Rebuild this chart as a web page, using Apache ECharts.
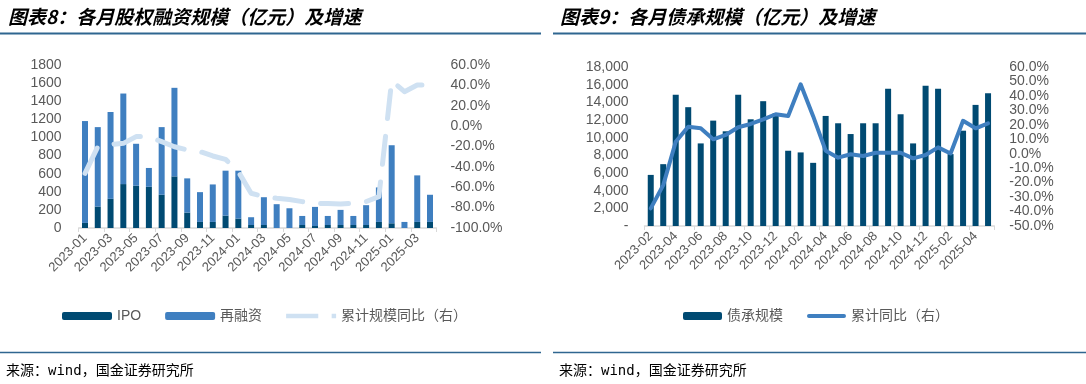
<!DOCTYPE html>
<html>
<head>
<meta charset="utf-8">
<script src="https://cdn.jsdelivr.net/npm/echarts@6/dist/echarts.min.js"></script>
<style>
html,body{margin:0;padding:0;background:#fff;}
#c{width:1086px;height:384px;}
</style>
</head>
<body>
<div id="c"></div>
<script>
// ---- Chart 8 data: 各月股权融资规模（亿元）及增速 ----
const months8 = ['2023-01','2023-02','2023-03','2023-04','2023-05','2023-06','2023-07','2023-08','2023-09','2023-10','2023-11','2023-12',
  '2024-01','2024-02','2024-03','2024-04','2024-05','2024-06','2024-07','2024-08','2024-09','2024-10','2024-11','2024-12',
  '2025-01','2025-02','2025-03','2025-04'];
const ipo = [56, 237, 322, 485, 467, 455, 367, 570, 170, 67, 67, 137, 104, 33, 33, 0, 0, 33, 22, 33, 33, 33, 33, 67, 52, 0, 67, 67];
const refinance = [1125, 877, 959, 1000, 463, 208, 747, 978, 378, 329, 414, 496, 529, 86, 307, 263, 218, 100, 211, 100, 167, 100, 219, 381, 862, 67, 514, 300];
const yoy8 = [-46.3, -20.2, -18, -16.9, -10.3, -10.3, -15.2, -20.2, -23.4, -25, -29.3, -32.6, -44.7, -65.9, -69.2, -70.8, -72, -74.1, -75.7, -76, -76.4, -75.7, -74.1, -69.2, 44.6, 33.8, 40.4, 40.4];

// ---- Chart 9 data: 各月债承规模（亿元）及增速 ----
const months9 = ['2023-02','2023-03','2023-04','2023-05','2023-06','2023-07','2023-08','2023-09','2023-10','2023-11','2023-12',
  '2024-01','2024-02','2024-03','2024-04','2024-05','2024-06','2024-07','2024-08','2024-09','2024-10','2024-11','2024-12',
  '2025-01','2025-02','2025-03','2025-04','2025-05'];
const bonds = [5785, 7000, 14850, 13450, 9350, 11930, 10720, 14850, 12080, 14130, 12770, 8520, 8330, 7150, 12460, 11630, 10410, 11630, 11630, 15530, 12650, 9350, 15870, 15530, 8140, 10790, 13710, 15040];
const yoy9 = [-37.8, -21.7, 8.3, 18.7, 17.6, 10, 13, 18.3, 20.6, 23.8, 27.3, 26.1, 48, 26, 2.1, -2.7, -0.4, -1.6, 0.7, 0.7, 0.7, -3.2, -0.9, 4.4, 0.2, 22.8, 17.6, 21];

const DARK = '#004a72';
const MID = '#3f7fc0';
const LIGHT = '#cfe1f2';
const GRAY = '#595959';
const AXF = 'Liberation Sans, Arial, sans-serif';
const CJK = 'Liberation Sans, "Noto Sans CJK SC", sans-serif';

const chart = echarts.init(document.getElementById('c'), null, {renderer: 'canvas'});

const xAxisBase = (data) => ({
  type: 'category',
  data: data,
  axisLine: {lineStyle: {color: '#d9d9d9', width: 1.5}},
  axisTick: {show: true, length: 4, lineStyle: {color: '#d9d9d9'}},
  axisLabel: {interval: 1, rotate: 45, color: GRAY, fontSize: 13, fontFamily: AXF, margin: 8},
  splitLine: {show: false}
});
const yBase = {
  splitLine: {show: false},
  axisLine: {show: false},
  axisTick: {show: false}
};

const dashIcon = 'path://M0,0h36v5h-36z M51,0h5v5h-5z';
const solidIcon = 'path://M2,0h36a2,2 0 0 1 0,4h-36a2,2 0 0 1 0,-4z';

chart.setOption({
  animation: false,
  backgroundColor: '#fff',
  title: [
    {text: '图表8：各月股权融资规模（亿元）及增速', left: 3, top: 2,
     textStyle: {fontSize: 19, fontWeight: 'bold', fontStyle: 'italic', color: '#000', fontFamily: '"Noto Sans CJK SC", sans-serif'}},
    {text: '图表9：各月债承规模（亿元）及增速', left: 555, top: 2,
     textStyle: {fontSize: 19, fontWeight: 'bold', fontStyle: 'italic', color: '#000', fontFamily: '"Noto Sans CJK SC", sans-serif'}}
  ],
  graphic: [
    {type: 'line', shape: {x1: 0, y1: 33.5, x2: 541, y2: 33.5}, style: {stroke: '#2f6690', lineWidth: 2}},
    {type: 'line', shape: {x1: 553, y1: 33.5, x2: 1086, y2: 33.5}, style: {stroke: '#2f6690', lineWidth: 2}},
    {type: 'line', shape: {x1: 0, y1: 352.5, x2: 541, y2: 352.5}, style: {stroke: '#2f6690', lineWidth: 1.5}},
    {type: 'line', shape: {x1: 553, y1: 352.5, x2: 1086, y2: 352.5}, style: {stroke: '#2f6690', lineWidth: 1.5}},
    {type: 'text', left: 6, top: 364, style: {text: '来源：wind，国金证券研究所', fill: '#000', font: '14px "DejaVu Sans Mono", "Noto Sans CJK SC", monospace'}},
    {type: 'text', left: 559, top: 364, style: {text: '来源：wind，国金证券研究所', fill: '#000', font: '14px "DejaVu Sans Mono", "Noto Sans CJK SC", monospace'}}
  ],
  legend: [
    {left: 57, top: 304, itemWidth: 50, itemHeight: 8, itemGap: 24,
     textStyle: {color: GRAY, fontSize: 14, fontFamily: CJK},
     data: ['IPO', '再融资', {name: '累计规模同比（右）', icon: dashIcon, itemStyle: {color: LIGHT}}]},
    {left: 678, top: 304, itemWidth: 39, itemHeight: 8, itemGap: 24,
     textStyle: {color: GRAY, fontSize: 14, fontFamily: CJK},
     data: ['债承规模', {name: '累计同比（右）', icon: solidIcon, itemStyle: {color: MID}}]}
  ],
  grid: [
    {left: 78.6, top: 65, width: 357.8, height: 163},
    {left: 644.5, top: 67, width: 349.8, height: 159}
  ],
  xAxis: [
    Object.assign(xAxisBase(months8), {gridIndex: 0}),
    Object.assign(xAxisBase(months9), {gridIndex: 1})
  ],
  yAxis: [
    Object.assign({}, yBase, {gridIndex: 0, type: 'value', min: 0, max: 1800, interval: 200,
      axisLabel: {color: GRAY, fontSize: 14, fontFamily: AXF, margin: 17, formatter: v => String(v)}}),
    Object.assign({}, yBase, {gridIndex: 0, type: 'value', position: 'right', min: -100, max: 60, interval: 20,
      axisLabel: {color: GRAY, fontSize: 14, fontFamily: AXF, margin: 14, formatter: v => v.toFixed(1) + '%'}}),
    Object.assign({}, yBase, {gridIndex: 1, type: 'value', min: 0, max: 18000, interval: 2000,
      axisLabel: {color: GRAY, fontSize: 14, fontFamily: AXF, margin: 16,
        formatter: v => v === 0 ? '-' : v.toLocaleString('en-US')}}),
    Object.assign({}, yBase, {gridIndex: 1, type: 'value', position: 'right', min: -50, max: 60, interval: 10,
      axisLabel: {color: GRAY, fontSize: 14, fontFamily: AXF, margin: 15, formatter: v => v.toFixed(1) + '%'}})
  ],
  series: [
    {name: 'IPO', type: 'bar', stack: 'eq', xAxisIndex: 0, yAxisIndex: 0, data: ipo, barWidth: 6,
     itemStyle: {color: DARK}},
    {name: '再融资', type: 'bar', stack: 'eq', xAxisIndex: 0, yAxisIndex: 0, data: refinance, barWidth: 6,
     itemStyle: {color: MID}},
    {name: '累计规模同比（右）', type: 'line', xAxisIndex: 0, yAxisIndex: 1, data: yoy8, symbol: 'none', z: 5,
     lineStyle: {color: LIGHT, width: 5, type: [28, 18], cap: 'round', join: 'round'},
     itemStyle: {color: LIGHT}},
    {name: '债承规模', type: 'bar', xAxisIndex: 1, yAxisIndex: 2, data: bonds, barWidth: 6,
     itemStyle: {color: DARK}},
    {name: '累计同比（右）', type: 'line', xAxisIndex: 1, yAxisIndex: 3, data: yoy9, symbol: 'none', z: 5,
     lineStyle: {color: MID, width: 4, cap: 'round', join: 'round'},
     itemStyle: {color: MID}}
  ]
});
</script>
</body>
</html>
